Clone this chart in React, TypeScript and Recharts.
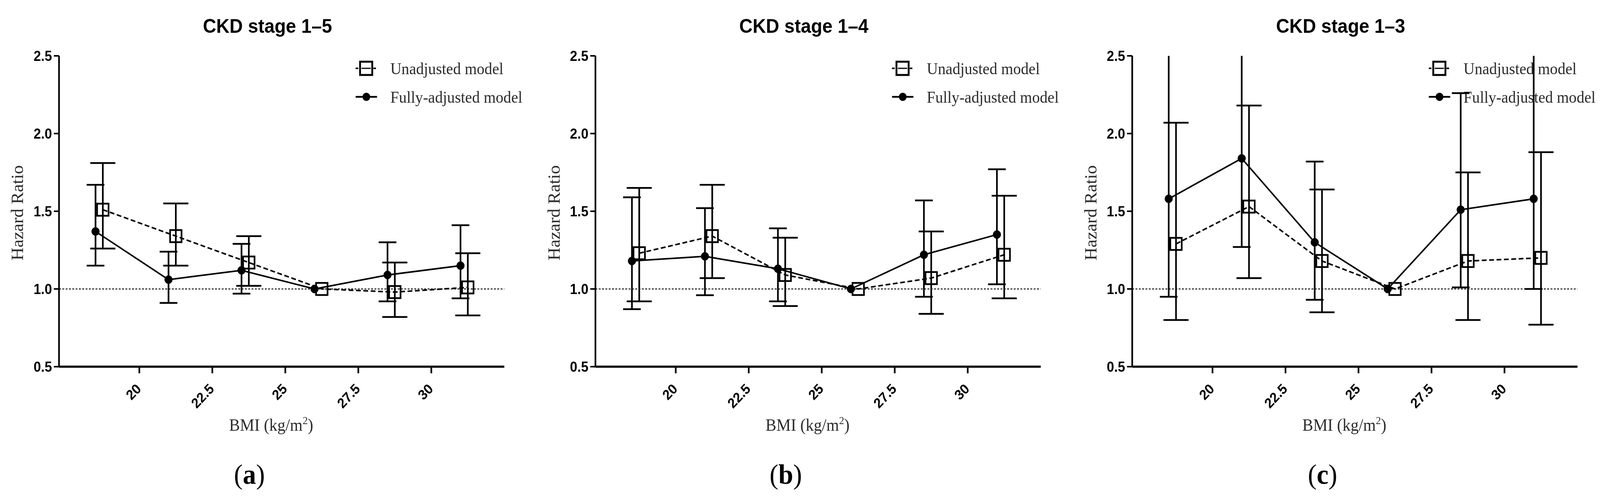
import React from 'react';
import { LineChart, Line, XAxis, YAxis, ErrorBar, ReferenceLine, Legend } from 'recharts';

// x positions (BMI, kg/m2) of the six BMI groups for each model
const fullyX = [18.5, 21, 23.5, 26, 28.5, 31];
const unadjX = [18.75, 21.25, 23.75, 26.25, 28.75, 31.25];
const xTicks = [20, 22.5, 25, 27.5, 30];
const yTicks = [0.5, 1.0, 1.5, 2.0, 2.5];

const titles = ['CKD stage 1\u20135', 'CKD stage 1\u20134', 'CKD stage 1\u20133'];
const panelLetters = ['a', 'b', 'c'];

// Panel (a) CKD stage 1-5
const aUnadjHR = [1.51, 1.34, 1.17, 1.0, 0.98, 1.01];
const aUnadjLo = [1.26, 1.15, 1.02, null, 0.82, 0.83];
const aUnadjHi = [1.81, 1.55, 1.34, null, 1.17, 1.23];
const aFullyHR = [1.37, 1.06, 1.12, 1.0, 1.09, 1.15];
const aFullyLo = [1.15, 0.91, 0.97, null, 0.92, 0.94];
const aFullyHi = [1.67, 1.24, 1.29, null, 1.3, 1.41];

// Panel (b) CKD stage 1-4
const bUnadjHR = [1.23, 1.34, 1.09, 1.0, 1.07, 1.22];
const bUnadjLo = [0.92, 1.07, 0.89, null, 0.84, 0.94];
const bUnadjHi = [1.65, 1.67, 1.33, null, 1.37, 1.6];
const bFullyHR = [1.18, 1.21, 1.13, 1.0, 1.22, 1.35];
const bFullyLo = [0.87, 0.96, 0.92, null, 0.95, 1.03];
const bFullyHi = [1.59, 1.52, 1.39, null, 1.57, 1.77];

// Panel (c) CKD stage 1-3 (three upper limits run past the 2.5 axis top)
const cUnadjHR = [1.29, 1.53, 1.18, 1.0, 1.18, 1.2];
const cUnadjLo = [0.8, 1.07, 0.85, null, 0.8, 0.77];
const cUnadjHi = [2.07, 2.18, 1.64, null, 1.75, 1.88];
const cFullyHR = [1.58, 1.84, 1.3, 1.0, 1.51, 1.58];
const cFullyLo = [0.95, 1.27, 0.93, null, 1.01, 1.0];
const cFullyHi = [2.9, 2.8, 1.82, null, 2.26, 2.75];

type Pt = { x: number; y: number; err?: [number, number] };

function buildSeries(xs: number[], hr: number[], lo: (number | null)[], hi: (number | null)[]): Pt[] {
  return xs.map((x, i) => {
    const l = lo[i];
    const h = hi[i];
    const p: Pt = { x, y: hr[i] };
    if (l != null && h != null) p.err = [hr[i] - l, h - hr[i]];
    return p;
  });
}

const panels = [
  { unadj: buildSeries(unadjX, aUnadjHR, aUnadjLo, aUnadjHi), fully: buildSeries(fullyX, aFullyHR, aFullyLo, aFullyHi) },
  { unadj: buildSeries(unadjX, bUnadjHR, bUnadjLo, bUnadjHi), fully: buildSeries(fullyX, bFullyHR, bFullyLo, bFullyHi) },
  { unadj: buildSeries(unadjX, cUnadjHR, cUnadjLo, cUnadjHi), fully: buildSeries(fullyX, cFullyHR, cFullyLo, cFullyHi) },
];

const SANS = '"Liberation Sans", Arial, Helvetica, sans-serif';
const SERIF = '"Liberation Serif", "Times New Roman", Times, serif';
const TEXT_GREY = '#2b2b2b';

const SquareDot = (props: any) => {
  const { cx, cy, index } = props;
  if (cx == null || cy == null) return null;
  return (
    <rect
      key={`sq-${index}`}
      x={cx - 15.5}
      y={cy - 15.5}
      width={31}
      height={31}
      fill="none"
      stroke="#000"
      strokeWidth={4.5}
    />
  );
};

const XTick = (props: any) => {
  const { x, y, payload } = props;
  return (
    <g transform={`translate(${x + 7},${y + 40})`}>
      <text textAnchor="end" transform="rotate(-45)" fontSize={36} fontWeight="bold" fontFamily={SANS} fill="#000">
        {payload.value}
      </text>
    </g>
  );
};

const LegendBox = () => (
  <svg width={520} height={150} style={{ overflow: 'visible' }}>
    <line x1={14} y1={45} x2={72} y2={45} stroke="#000" strokeWidth={4} strokeDasharray="7 5" />
    <rect x={26} y={28} width={33} height={34} fill="#fff" stroke="#000" strokeWidth={5} />
    <line x1={30} y1={45} x2={55} y2={45} stroke="#000" strokeWidth={3} />
    <text x={108} y={60} fontSize={42} fontFamily={SERIF} fill={TEXT_GREY}>
      Unadjusted model
    </text>
    <line x1={14} y1={118} x2={72} y2={118} stroke="#000" strokeWidth={4.5} />
    <circle cx={43} cy={118} r={10.5} fill="#000" />
    <text x={108} y={133} fontSize={42} fontFamily={SERIF} fill={TEXT_GREY}>
      Fully-adjusted model
    </text>
  </svg>
);

const PLOT_LEFT = 160;
const PLOT_TOP = 143;
const PLOT_W = 1207;
const PLOT_H = 796;

function Panel({ idx, left, width }: { idx: number; left: number; width: number }) {
  const p = panels[idx];
  const clipId = `eb-clip-${idx}`;
  return (
    <div style={{ position: 'absolute', left, top: 0 }}>
      <LineChart
        width={width}
        height={1283}
        margin={{ top: PLOT_TOP, right: width - PLOT_LEFT - PLOT_W, bottom: 284, left: 0 }}
      >
        <defs>
          <clipPath id={clipId}>
            <rect x={PLOT_LEFT - 30} y={PLOT_TOP} width={PLOT_W + 60} height={PLOT_H + 10} />
          </clipPath>
        </defs>
        <XAxis
          type="number"
          dataKey="x"
          domain={[17.25, 32.5]}
          ticks={xTicks}
          allowDataOverflow
          height={60}
          axisLine={{ stroke: '#000', strokeWidth: 5.5 }}
          tickLine={{ stroke: '#000', strokeWidth: 4.5 }}
          tickSize={17}
          tick={<XTick />}
          interval={0}
        />
        <YAxis
          type="number"
          domain={[0.5, 2.5]}
          ticks={yTicks}
          allowDataOverflow
          width={160}
          tickFormatter={(v: number) => v.toFixed(1)}
          axisLine={{ stroke: '#000', strokeWidth: 4.5 }}
          tickLine={{ stroke: '#000', strokeWidth: 4 }}
          tickSize={14}
          tickMargin={5}
          tick={{ fontSize: 36, fontWeight: 'bold', fontFamily: SANS, fill: '#000' }}
          interval={0}
        />
        <ReferenceLine y={1} stroke="#000" strokeWidth={2.5} strokeDasharray="5 4" ifOverflow="hidden" />
        <Line
          data={p.unadj}
          dataKey="y"
          type="linear"
          stroke="#000"
          strokeWidth={4}
          strokeDasharray="13 7"
          dot={SquareDot}
          activeDot={false}
          isAnimationActive={false}
          name="Unadjusted model"
        >
          <ErrorBar
            dataKey="err"
            direction="y"
            width={34}
            stroke="#000"
            strokeWidth={4.5}
            clipPath={`url(#${clipId})`}
          />
        </Line>
        <Line
          data={p.fully}
          dataKey="y"
          type="linear"
          stroke="#000"
          strokeWidth={4}
          dot={{ r: 10.5, fill: '#000', stroke: '#000', strokeWidth: 1 }}
          activeDot={false}
          isAnimationActive={false}
          name="Fully-adjusted model"
        >
          <ErrorBar
            dataKey="err"
            direction="y"
            width={24}
            stroke="#000"
            strokeWidth={4.5}
            clipPath={`url(#${clipId})`}
          />
        </Line>
        <Legend
          layout="horizontal"
          verticalAlign="middle"
          align="center"
          content={<LegendBox />}
          wrapperStyle={{ position: 'absolute', left: PLOT_LEFT + 790, top: 130, width: 520, height: 150, zIndex: -1 }}
        />
        <text x={725} y={84} textAnchor="middle" fontSize={50} fontWeight="bold" fontFamily={SANS} fill="#000">
          {titles[idx]}
        </text>
        <text
          x={63}
          y={545}
          textAnchor="middle"
          fontSize={46}
          fontFamily={SERIF}
          fill={TEXT_GREY}
          transform="rotate(-90, 63, 545)"
        >
          Hazard Ratio
        </text>
        <text x={735} y={1103} textAnchor="middle" fontSize={44} fontFamily={SERIF} fill={TEXT_GREY}>
          BMI (kg/m
          <tspan dy={-17} fontSize={28}>
            2
          </tspan>
          <tspan dy={17}>)</tspan>
        </text>
        <text x={676} y={1239} textAnchor="middle" fontSize={72} fontFamily={SERIF} fill="#000">
          (<tspan fontWeight="bold">{panelLetters[idx]}</tspan>)
        </text>
      </LineChart>
    </div>
  );
}

const FIG_W = 4337;
const FIG_H = 1283;

export default function App() {
  const vw = typeof window !== 'undefined' ? window.innerWidth : FIG_W;
  const vh = typeof window !== 'undefined' ? window.innerHeight : FIG_H;
  const sx = vw > 0 ? Math.min(1, vw / FIG_W) : 1;
  const sy = vh > 0 ? Math.min(1, vh / FIG_H) : 1;
  return (
    <div
      style={{
        position: 'fixed',
        left: 0,
        top: 0,
        width: '100vw',
        height: '100vh',
        overflow: 'hidden',
      }}
    >
      <div
        style={{
          position: 'absolute',
          left: 0,
          top: 0,
          width: FIG_W,
          height: FIG_H,
          transform: `scale(${sx}, ${sy})`,
          transformOrigin: '0 0',
        }}
      >
        <Panel idx={0} left={0} width={1447} />
        <Panel idx={1} left={1454} width={1447} />
        <Panel idx={2} left={2909} width={1428} />
      </div>
    </div>
  );
}
